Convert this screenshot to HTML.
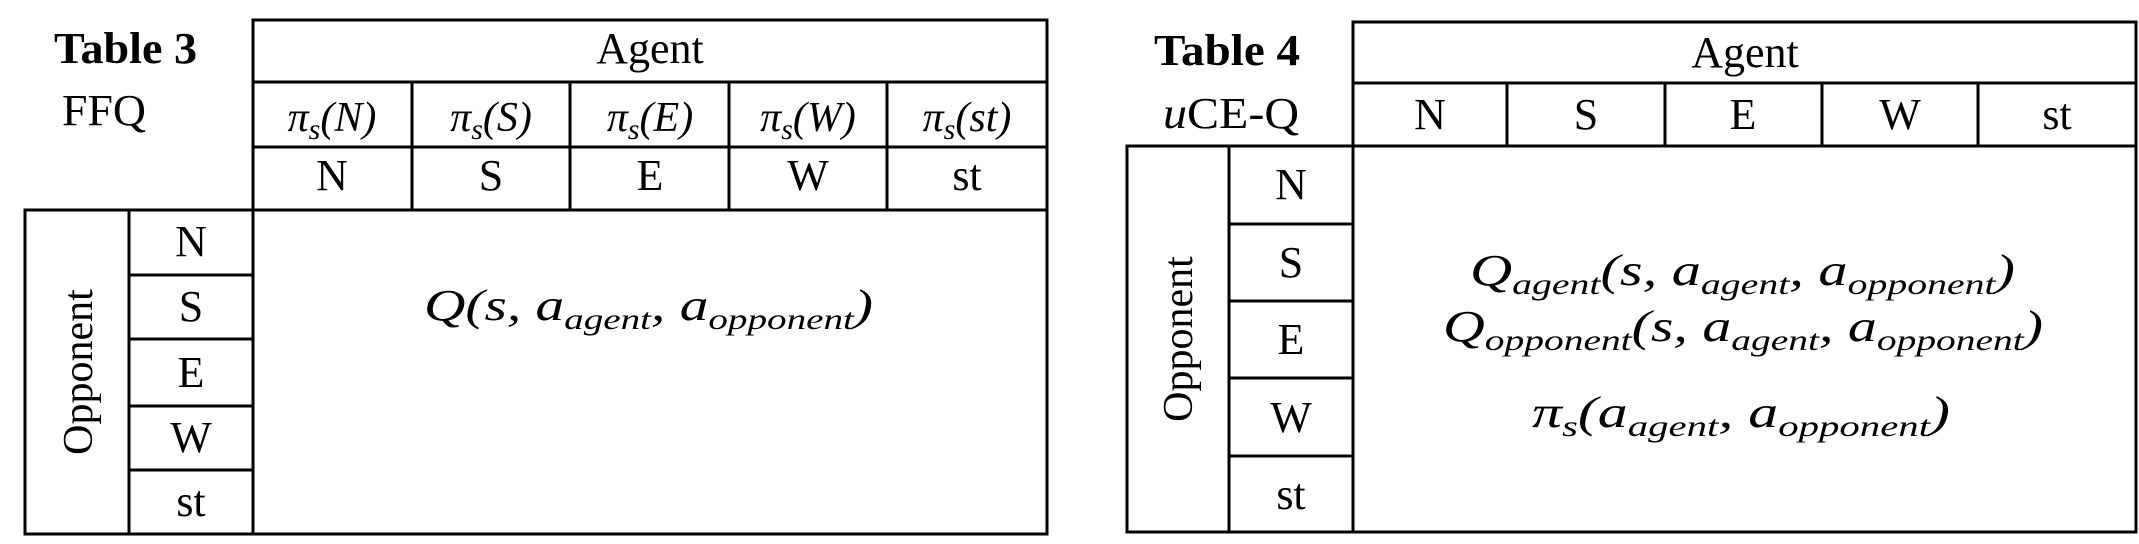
<!DOCTYPE html>
<html><head><meta charset="utf-8"><style>
html,body{margin:0;padding:0;background:#fff;}
svg{display:block}
.t{font-family:"Liberation Serif",serif;fill:#000}
.m{font-family:"Liberation Serif",serif;font-style:italic;fill:#000}
</style></head><body>
<svg width="2139" height="544" viewBox="0 0 2139 544" xmlns="http://www.w3.org/2000/svg">
<g stroke="#000" stroke-width="3" fill="none">
<!-- Table 3 -->
<rect x="253" y="20" width="794" height="514"/>
<line x1="253" y1="82" x2="1047" y2="82"/>
<line x1="253" y1="147" x2="1047" y2="147"/>
<line x1="25" y1="210" x2="1047" y2="210"/>
<line x1="412" y1="82" x2="412" y2="210"/>
<line x1="570" y1="82" x2="570" y2="210"/>
<line x1="729" y1="82" x2="729" y2="210"/>
<line x1="887" y1="82" x2="887" y2="210"/>
<rect x="25" y="210" width="228" height="324"/>
<line x1="129" y1="210" x2="129" y2="534"/>
<line x1="129" y1="275" x2="253" y2="275"/>
<line x1="129" y1="339" x2="253" y2="339"/>
<line x1="129" y1="406" x2="253" y2="406"/>
<line x1="129" y1="470" x2="253" y2="470"/>
<!-- Table 4 -->
<rect x="1353" y="22" width="783" height="510"/>
<line x1="1353" y1="83" x2="2136" y2="83"/>
<line x1="1127" y1="146" x2="2136" y2="146"/>
<line x1="1507" y1="83" x2="1507" y2="146"/>
<line x1="1665" y1="83" x2="1665" y2="146"/>
<line x1="1822" y1="83" x2="1822" y2="146"/>
<line x1="1978" y1="83" x2="1978" y2="146"/>
<rect x="1127" y="146" width="226" height="386"/>
<line x1="1229" y1="146" x2="1229" y2="532"/>
<line x1="1229" y1="224" x2="1353" y2="224"/>
<line x1="1229" y1="301" x2="1353" y2="301"/>
<line x1="1229" y1="378" x2="1353" y2="378"/>
<line x1="1229" y1="456" x2="1353" y2="456"/>
</g>

<!-- Table 3 text -->
<text class="t" x="54" y="63" font-size="44" font-weight="bold" textLength="143" lengthAdjust="spacingAndGlyphs">Table 3</text>
<text class="t" x="62" y="125" font-size="44" textLength="84" lengthAdjust="spacingAndGlyphs">FFQ</text>
<text class="t" x="650" y="63" font-size="44" text-anchor="middle">Agent</text>
<g class="m" font-size="42" text-anchor="middle">
<text x="332" y="131">π<tspan font-size="30" dy="8">s</tspan><tspan dy="-8">(N)</tspan></text>
<text x="491" y="131">π<tspan font-size="30" dy="8">s</tspan><tspan dy="-8">(S)</tspan></text>
<text x="650" y="131">π<tspan font-size="30" dy="8">s</tspan><tspan dy="-8">(E)</tspan></text>
<text x="808" y="131">π<tspan font-size="30" dy="8">s</tspan><tspan dy="-8">(W)</tspan></text>
<text x="967" y="131">π<tspan font-size="30" dy="8">s</tspan><tspan dy="-8">(st)</tspan></text>
</g>
<g class="t" font-size="44" text-anchor="middle">
<text x="332" y="190">N</text><text x="491" y="190">S</text><text x="650" y="190">E</text><text x="808" y="190">W</text><text x="967" y="190">st</text>
<text x="191" y="256">N</text><text x="191" y="321">S</text><text x="191" y="387">E</text><text x="191" y="452">W</text><text x="191" y="516">st</text>
</g>
<text class="t" font-size="42" text-anchor="middle" transform="translate(92,372) rotate(-90)">Opponent</text>
<text class="m" x="424" y="320" font-size="44" textLength="449" lengthAdjust="spacingAndGlyphs">Q(s, a<tspan font-size="30" dy="9">agent</tspan><tspan dy="-9">, a</tspan><tspan font-size="30" dy="9">opponent</tspan><tspan dy="-9">)</tspan></text>

<!-- Table 4 text -->
<text class="t" x="1154" y="65" font-size="44" font-weight="bold" textLength="146" lengthAdjust="spacingAndGlyphs">Table 4</text>
<text class="t" x="1163" y="128" font-size="44" textLength="136" lengthAdjust="spacingAndGlyphs"><tspan font-style="italic">u</tspan>CE-Q</text>
<text class="t" x="1745" y="67" font-size="44" text-anchor="middle">Agent</text>
<g class="t" font-size="44" text-anchor="middle">
<text x="1430" y="129">N</text><text x="1586" y="129">S</text><text x="1743" y="129">E</text><text x="1900" y="129">W</text><text x="2057" y="129">st</text>
<text x="1291" y="199">N</text><text x="1291" y="277">S</text><text x="1291" y="354">E</text><text x="1291" y="432">W</text><text x="1291" y="509">st</text>
</g>
<text class="t" font-size="42" text-anchor="middle" transform="translate(1192,339) rotate(-90)">Opponent</text>
<g class="m" font-size="44">
<text x="1470" y="285" textLength="545" lengthAdjust="spacingAndGlyphs">Q<tspan font-size="30" dy="9">agent</tspan><tspan dy="-9">(s, a</tspan><tspan font-size="30" dy="9">agent</tspan><tspan dy="-9">, a</tspan><tspan font-size="30" dy="9">opponent</tspan><tspan dy="-9">)</tspan></text>
<text x="1443" y="341" textLength="600" lengthAdjust="spacingAndGlyphs">Q<tspan font-size="30" dy="9">opponent</tspan><tspan dy="-9">(s, a</tspan><tspan font-size="30" dy="9">agent</tspan><tspan dy="-9">, a</tspan><tspan font-size="30" dy="9">opponent</tspan><tspan dy="-9">)</tspan></text>
<text x="1532" y="427" textLength="418" lengthAdjust="spacingAndGlyphs">π<tspan font-size="30" dy="9">s</tspan><tspan dy="-9">(a</tspan><tspan font-size="30" dy="9">agent</tspan><tspan dy="-9">, a</tspan><tspan font-size="30" dy="9">opponent</tspan><tspan dy="-9">)</tspan></text>
</g>
</svg>
</body></html>
